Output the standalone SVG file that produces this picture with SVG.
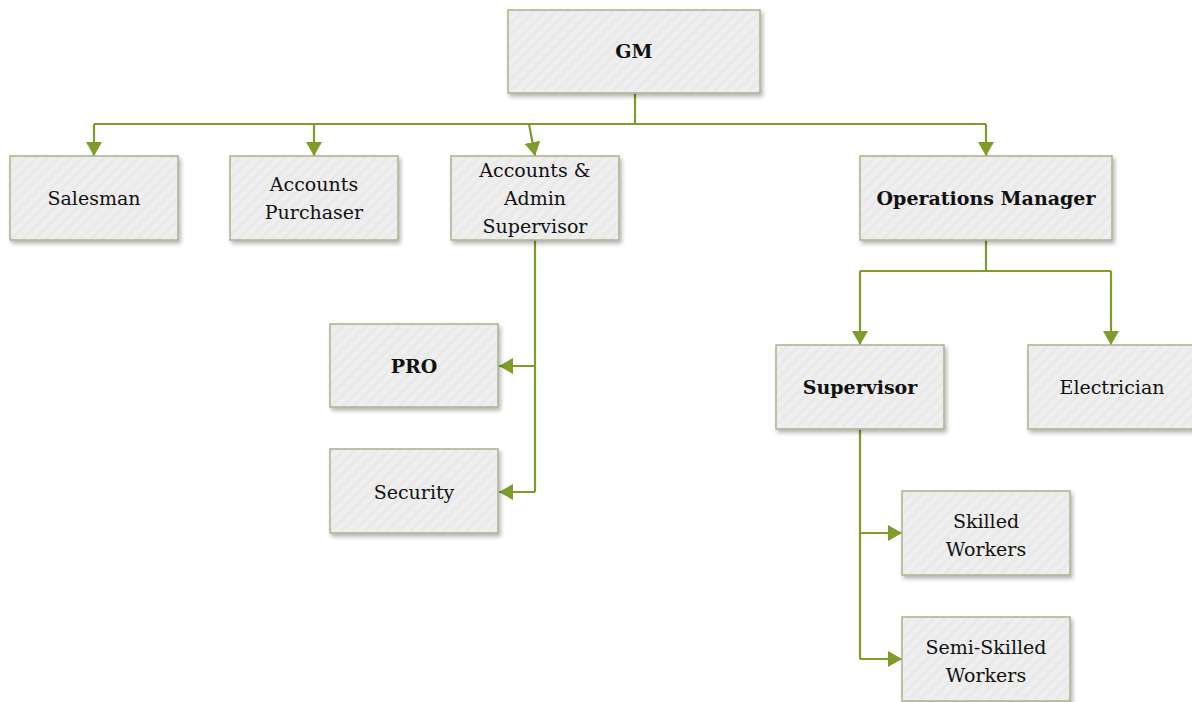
<svg xmlns="http://www.w3.org/2000/svg" width="1192" height="702" viewBox="0 0 1192 702">
<style>
.box{fill:url(#hatch);stroke:#aab38b;stroke-width:1.5;filter:url(#sh)}
.t{font-family:"DejaVu Serif","Liberation Serif",serif;font-size:19px;fill:#111;text-anchor:middle}
.b{font-weight:bold}
.c{fill:none;stroke:#7f9b2a;stroke-width:2.2;marker-end:url(#ar)}
.cn{fill:none;stroke:#7f9b2a;stroke-width:2.2}
</style>
<defs>
<pattern id="hatch" width="8" height="8" patternUnits="userSpaceOnUse" patternTransform="rotate(45)">
<rect width="8" height="8" fill="#eeeeee"/>
<rect width="3" height="8" fill="#e9e9e9"/>
</pattern>
<filter id="sh" x="-10%" y="-10%" width="130%" height="130%">
<feGaussianBlur in="SourceAlpha" stdDeviation="2"/>
<feOffset dx="2" dy="3" result="o"/>
<feComponentTransfer><feFuncA type="linear" slope="0.3"/></feComponentTransfer>
<feMerge><feMergeNode/><feMergeNode in="SourceGraphic"/></feMerge>
</filter>
<marker id="ar" viewBox="0 0 14 16" refX="14" refY="8" markerWidth="14" markerHeight="16" markerUnits="userSpaceOnUse" orient="auto">
<path d="M0,0 L14,8 L0,16 Z" fill="#7f9b2a"/>
</marker>
</defs>
<g id="connectors">
<path class="cn" d="M635,93 V124 M94,124 H986"/>
<path class="c" d="M94,124 V156"/>
<path class="c" d="M314,124 V156"/>
<path class="c" d="M529,124 L535,156"/>
<path class="c" d="M986,124 V156"/>
<path class="cn" d="M986,240 V271 M860,271 H1111"/>
<path class="c" d="M860,271 V345"/>
<path class="c" d="M1111,271 V345"/>
<path class="cn" d="M535,240 V492"/>
<path class="c" d="M535,366 H499"/>
<path class="c" d="M535,492 H499"/>
<path class="cn" d="M860,429 V659"/>
<path class="c" d="M860,533 H902"/>
<path class="c" d="M860,659 H902"/>
</g>
<g id="gm"><rect class="box" x="508" y="10" width="252" height="83"/><text class="t b" x="634" y="58">GM</text></g>
<g id="salesman"><rect class="box" x="10" y="156" width="168" height="84"/><text class="t" x="94" y="205">Salesman</text></g>
<g id="accounts-purchaser"><rect class="box" x="230" y="156" width="168" height="84"/><text class="t" x="314" y="191">Accounts</text><text class="t" x="314" y="219">Purchaser</text></g>
<g id="accounts-admin"><rect class="box" x="451" y="156" width="168" height="84"/><text class="t" x="535" y="177">Accounts &amp;</text><text class="t" x="535" y="205">Admin</text><text class="t" x="535" y="233">Supervisor</text></g>
<g id="operations-manager"><rect class="box" x="860" y="156" width="252" height="84"/><text class="t b" x="986" y="205">Operations Manager</text></g>
<g id="pro"><rect class="box" x="330" y="324" width="168" height="83"/><text class="t b" x="414" y="373">PRO</text></g>
<g id="security"><rect class="box" x="330" y="449" width="168" height="84"/><text class="t" x="414" y="499">Security</text></g>
<g id="supervisor"><rect class="box" x="776" y="345" width="168" height="84"/><text class="t b" x="860" y="394">Supervisor</text></g>
<g id="electrician"><rect class="box" x="1028" y="345" width="168" height="84"/><text class="t" x="1112" y="394">Electrician</text></g>
<g id="skilled-workers"><rect class="box" x="902" y="491" width="168" height="84"/><text class="t" x="986" y="528">Skilled</text><text class="t" x="986" y="556">Workers</text></g>
<g id="semi-skilled-workers"><rect class="box" x="902" y="617" width="168" height="84"/><text class="t" x="986" y="654">Semi-Skilled</text><text class="t" x="986" y="682">Workers</text></g>
</svg>
